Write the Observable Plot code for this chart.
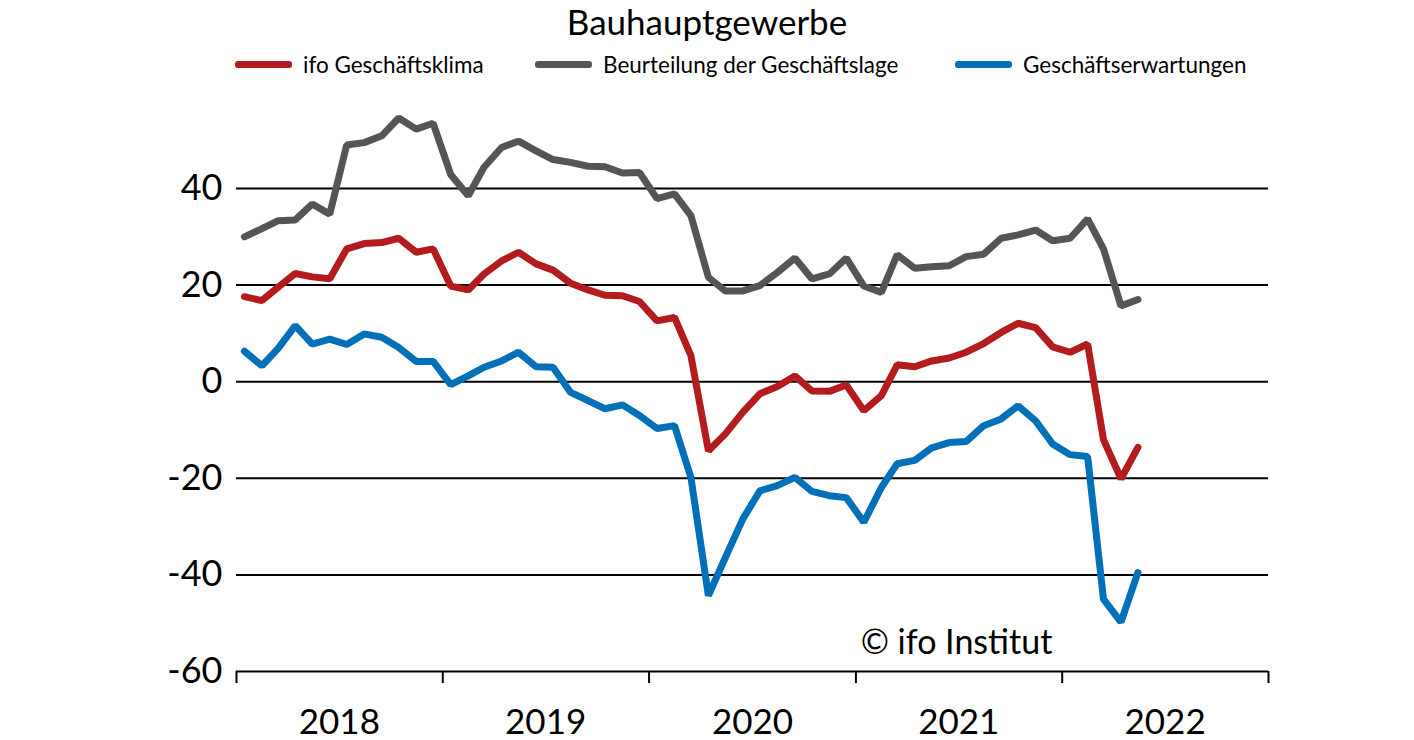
<!DOCTYPE html>
<html>
<head>
<meta charset="utf-8">
<script src="https://cdn.jsdelivr.net/npm/d3@7"></script>
<script src="https://cdn.jsdelivr.net/npm/@observablehq/plot@0.6"></script>
<style>
  html, body { margin: 0; padding: 0; background: #fff; }
  body { width: 1414px; height: 740px; overflow: hidden; font-family: Lato, "Noto Sans", sans-serif; }
  #head { position: relative; width: 1414px; height: 100px; }
  #title { position: absolute; left: 0; width: 1414px; top: 0; text-align: center; font-size: 35px; line-height: normal; color: #000; }
  .leg { position: absolute; top: 50px; height: 28px; display: flex; align-items: center; font-size: 22.5px; color: #000; white-space: nowrap; }
  .sw { width: 57px; height: 7px; border-radius: 3px; margin-right: 11px; }
  #chart svg { display: block; }
</style>
</head>
<body>
<div id="head">
  <div id="title"></div>
  <div id="legend"></div>
</div>
<div id="chart"></div>
<script>
// ---- data (monthly, Jan 2018 – May 2022) ----
const startYear = 2018;
const klima = [17.6, 16.8, 19.5, 22.4, 21.7, 21.3, 27.5, 28.6, 28.8, 29.7, 26.8, 27.5,
               19.8, 19.0, 22.3, 25.0, 26.8, 24.4, 23.1, 20.4, 19.0, 17.9, 17.8, 16.6,
               12.6, 13.3, 5.4, -14.3, -10.8, -6.3, -2.5, -1.0, 1.2, -1.9, -2.0, -0.7,
               -6.0, -2.9, 3.5, 3.1, 4.3, 4.9, 6.1, 7.9, 10.2, 12.1, 11.2, 7.2,
               6.1, 7.8, -12.0, -20.1, -13.6];
const lage = [30.0, 31.7, 33.3, 33.5, 36.8, 34.7, 49.0, 49.5, 50.9, 54.6, 52.3, 53.5,
              42.9, 38.5, 44.4, 48.5, 49.8, 47.8, 46.0, 45.4, 44.6, 44.5, 43.2, 43.3,
              37.9, 38.9, 34.4, 21.6, 18.8, 18.8, 19.9, 22.6, 25.6, 21.3, 22.3, 25.6,
              19.8, 18.5, 26.3, 23.5, 23.8, 24.0, 25.9, 26.4, 29.7, 30.4, 31.4, 29.2,
              29.7, 33.7, 27.5, 15.7, 17.0];
const erwartungen = [6.3, 3.3, 6.8, 11.6, 7.8, 8.8, 7.7, 9.9, 9.2, 7.1, 4.2, 4.2,
                     -0.6, 1.2, 3.0, 4.3, 6.1, 3.1, 3.0, -2.2, -3.9, -5.6, -4.8, -7.0,
                     -9.7, -9.1, -19.8, -44.3, -36.4, -28.4, -22.6, -21.5, -19.8, -22.7, -23.6, -24.0,
                     -29.1, -21.9, -17.0, -16.3, -13.7, -12.6, -12.4, -9.1, -7.7, -5.0, -8.1, -12.9,
                     -15.1, -15.5, -45.0, -49.8, -39.5];
const seriesNames = ["ifo Geschäftsklima", "Beurteilung der Geschäftslage", "Geschäftserwartungen"];
const seriesColors = ["#b31b1e", "#555555", "#0070b8"];
const yTicks = [-60, -40, -20, 0, 20, 40];
const gridValues = [-40, -20, 0, 20, 40];
const yearLabels = [2018, 2019, 2020, 2021, 2022];
const titleText = "Bauhauptgewerbe";
const creditText = "© ifo Institut";

// ---- build table ----
const seriesValues = [klima, lage, erwartungen];
const rows = [];
seriesValues.forEach((vals, s) => {
  vals.forEach((v, i) => rows.push({series: seriesNames[s], date: new Date(Date.UTC(startYear, i, 15)), value: v}));
});
const yearStarts = yearLabels.concat([yearLabels[yearLabels.length - 1] + 1]).map(y => new Date(Date.UTC(y, 0, 1)));
const yearMids = yearLabels.map(y => ({year: y, date: new Date(Date.UTC(y, 6, 2))}));
const yMin = yTicks[0];

// ---- header ----
document.getElementById("title").textContent = titleText;
const legendLefts = [235, 535, 955];
const legend = document.getElementById("legend");
seriesNames.forEach((n, i) => {
  const d = document.createElement("div");
  d.className = "leg";
  d.style.left = legendLefts[i] + "px";
  d.innerHTML = `<div class="sw" style="background:${seriesColors[i]}"></div><span>${n}</span>`;
  legend.appendChild(d);
});

// ---- chart ----
const chart = Plot.plot({
  width: 1414,
  height: 640,
  marginLeft: 236,
  marginRight: 146,
  marginTop: 88,
  marginBottom: 69,
  style: {fontFamily: "Lato, 'Noto Sans', sans-serif", background: "#fff", color: "#000"},
  x: {type: "utc", domain: [yearStarts[0], yearStarts[yearStarts.length - 1]], axis: null},
  y: {type: "linear", domain: [yMin, 40], axis: null},
  color: {domain: seriesNames, range: seriesColors},
  marks: [
    Plot.ruleY(gridValues, {stroke: "#000", strokeWidth: 2}),
    Plot.ruleY([yMin], {stroke: "#000", strokeWidth: 2}),
    Plot.ruleX(yearStarts, {x: d => d, y1: yMin, y2: yMin - 2.5, stroke: "#000", strokeWidth: 2}),
    Plot.axisY(yTicks, {tickSize: 0, tickPadding: 14, fontSize: 36, tickFormat: d => String(d), anchor: "left", label: null}),
    Plot.text(yearMids, {x: "date", y: yMin, text: d => String(d.year), dy: 51, fontSize: 35, fill: "#000"}),
    Plot.line(rows, {x: "date", y: "value", z: "series", stroke: "series", strokeWidth: 7, strokeLinejoin: "miter", strokeLinecap: "round", curve: "linear"}),
    Plot.text([creditText], {frameAnchor: "bottom-left", dx: 720, dy: -18, text: d => d, fontSize: 34, fill: "#000", textAnchor: "middle"})
  ]
});
document.getElementById("chart").appendChild(chart);
</script>
</body>
</html>
